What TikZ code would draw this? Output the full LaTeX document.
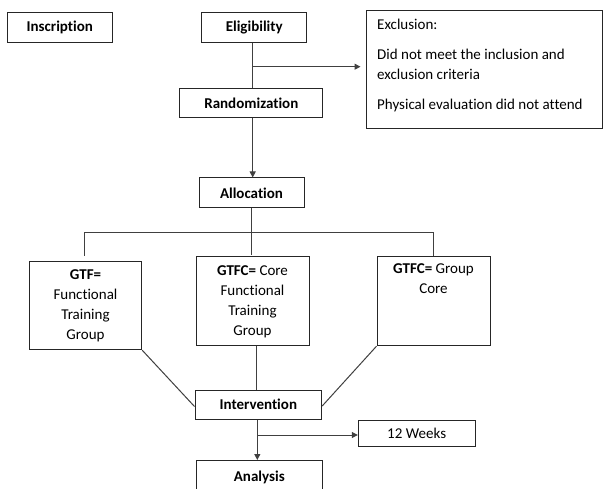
\documentclass[tikz,border=0pt]{standalone}
\usepackage{fontspec}
\setmainfont{Carlito}[Ligatures={NoCommon}]
\usetikzlibrary{arrows.meta}
\tikzset{
  x=1pt, y=-1pt,
  box/.style={draw=black!85, line width=1pt, rectangle, inner sep=0pt, align=center,
    font=\fontsize{15}{20}\selectfont},
  bbox/.style={box, font=\fontsize{15}{20}\selectfont\bfseries},
  conn/.style={draw=black!75, line width=1pt},
  arr/.style={conn, -{Triangle[length=6pt,width=6pt]}},
}
\begin{document}
\begin{tikzpicture}
\clip (0,0) rectangle (603,489);
\fill[white] (0,0) rectangle (603,489);

% top row
\node[bbox, minimum width=105pt, minimum height=30.4pt] (insc) at (59.8,27.5) {Inscription};
\node[bbox, minimum width=105pt, minimum height=30.4pt] (elig) at (254.2,27.5) {Eligibility};
\node[box, minimum width=236.5pt, minimum height=117.6pt] (excl) at (484.25,69.5) {};
\node[anchor=north west, inner sep=0pt, align=left, font=\fontsize{15}{19.5}\selectfont] (excltext) at (377,18.5)
  {Exclusion:\\[11pt]Did not meet the inclusion and\\exclusion criteria\\[11pt]Physical evaluation did not attend};

\node[bbox, minimum width=142.7pt, minimum height=29pt] (rand) at (251.3,103.5) {Randomization};
\node[bbox, minimum width=105pt, minimum height=30pt] (alloc) at (251.5,193) {Allocation};

% groups
\node[box, minimum width=112.4pt, minimum height=88pt] (gtf) at (85.5,305.7) {\textbf{GTF=}\\Functional\\Training\\Group};
\node[box, minimum width=113pt, minimum height=88.7pt] (gtfc) at (252.5,301.35) {\textbf{GTFC=} Core\\Functional\\Training\\Group};
\node[box, minimum width=113pt, minimum height=88.7pt] (gtfg) at (433.5,301.35) {\textbf{GTFC=} Group\\Core\\\strut\\\strut};

\node[bbox, minimum width=126.7pt, minimum height=29pt] (interv) at (258.35,404.5) {Intervention};
\node[box, minimum width=116.7pt, minimum height=26.7pt] (weeks) at (416.65,433.35) {12 Weeks};
\node[bbox, minimum width=126.7pt, minimum height=34pt, anchor=north] (anal) at (259.35,460) {Analysis};

% coordinates
\coordinate (ebr) at (252.7,66.7);
\coordinate (busL) at (84.7,232.7);
\coordinate (busR) at (433.3,232.7);
\coordinate (busM) at (251.7,232.7);
\coordinate (dropL) at (84.7,255.7);
\coordinate (dropM) at (251.7,255);
\coordinate (dropR) at (433.3,256);
\coordinate (ibr) at (257.3,435);

% connectors
\draw[conn] (elig.south -| ebr) -- (rand.north -| ebr);
\draw[arr] (ebr) -- ([xshift=-5pt]excl.west |- ebr);
\draw[arr] (rand.south -| ebr) -- (alloc.north -| ebr);
\draw[conn] (alloc.south -| busM) -- (dropM);
\draw[conn] (dropL) -- (busL) -- (busR) -- (dropR);
\draw[conn] (gtf.south east) -- ([yshift=-2pt]interv.west);
\draw[conn] (gtfc.south -| 256,0) -- (interv.north -| 256,0);
\draw[conn] (gtfg.south west) -- ([yshift=-1.5pt]interv.east);
\draw[arr] (interv.south -| ibr) -- (anal.north -| ibr);
\draw[arr] (ibr) -- (weeks.west |- ibr);
\end{tikzpicture}
\end{document}
